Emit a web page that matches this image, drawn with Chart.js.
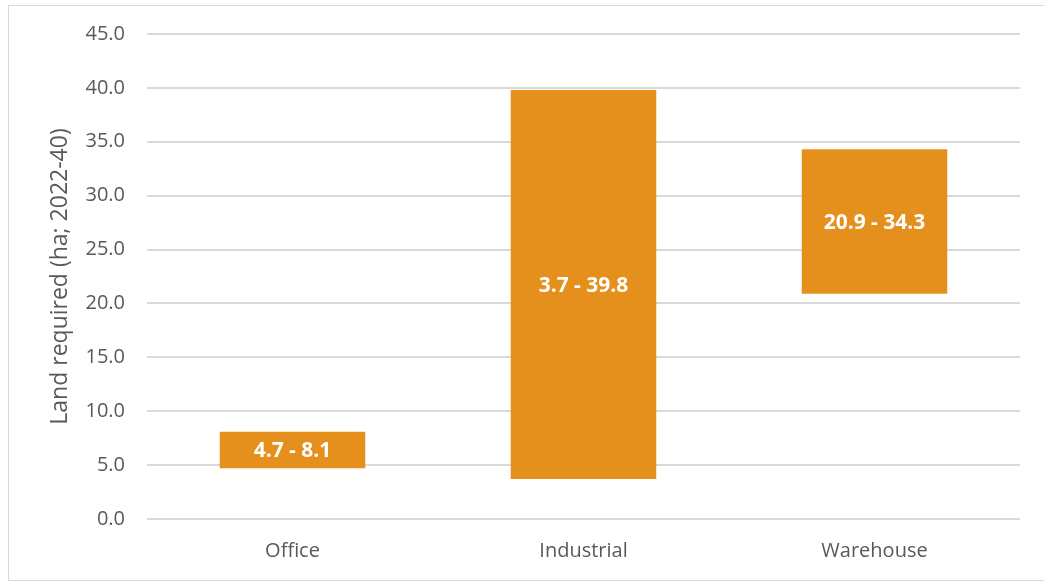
<!DOCTYPE html>
<html>
<head>
<meta charset="utf-8">
<script src="https://cdn.jsdelivr.net/npm/chart.js@4.4.0/dist/chart.umd.min.js"></script>
<style>
  html, body { margin: 0; padding: 0; background: #fff; }
  .frame {
    position: absolute; left: 8px; top: 5px;
    width: 1040px; height: 574px;
    border-left: 1px solid #d9d9d9;
    border-top: 1px solid #d9d9d9;
    border-bottom: 1px solid #d9d9d9;
  }
  #wrap { position: absolute; left: 0; top: 0; width: 1044px; height: 581px; }
</style>
</head>
<body>
<div class="frame"></div>
<div id="wrap"><canvas id="land-chart" width="1044" height="581"></canvas></div>
<script>
var categories = ['Office', 'Industrial', 'Warehouse'];
var lowValues = [4.7, 3.7, 20.9];
var highValues = [8.1, 39.8, 34.3];
var yTicks = [0, 5, 10, 15, 20, 25, 30, 35, 40, 45];

var ranges = categories.map(function (c, i) {
  return [lowValues[i], highValues[i]];
});

// writes "low - high" in the middle of each bar
var rangeLabels = {
  id: 'rangeLabels',
  afterDatasetsDraw: function (chart) {
    var ctx = chart.ctx;
    var meta = chart.getDatasetMeta(0);
    ctx.save();
    ctx.fillStyle = '#ffffff';
    ctx.font = 'bold 21px "Open Sans", sans-serif';
    ctx.textAlign = 'center';
    ctx.textBaseline = 'middle';
    meta.data.forEach(function (bar, i) {
      var txt = lowValues[i].toFixed(1) + ' - ' + highValues[i].toFixed(1);
      ctx.fillText(txt, bar.x, (bar.y + bar.base) / 2 + 1);
    });
    ctx.restore();
  }
};

new Chart(document.getElementById('land-chart'), {
  type: 'bar',
  data: {
    labels: categories,
    datasets: [{
      data: ranges,
      backgroundColor: '#e58f1c',
      borderSkipped: false,
      barPercentage: 0.5,
      categoryPercentage: 1.0
    }]
  },
  options: {
    responsive: false,
    animation: false,
    layout: { padding: { left: 47, right: 24, top: 27, bottom: 12 } },
    plugins: {
      legend: { display: false },
      tooltip: { enabled: false }
    },
    scales: {
      x: {
        grid: { display: false },
        border: { display: false },
        ticks: {
          color: '#595959',
          font: { family: '"Open Sans", sans-serif', size: 20 },
          padding: 12,
          maxRotation: 0
        },
        afterFit: function (scale) { scale.height = 50; }
      },
      y: {
        min: 0,
        max: 45,
        afterBuildTicks: function (scale) {
          scale.ticks = yTicks.map(function (v) { return { value: v }; });
        },
        grid: { color: '#d9d9d9', lineWidth: 2, drawTicks: false },
        border: { display: false },
        ticks: {
          color: '#595959',
          font: { family: '"Open Sans", sans-serif', size: 20 },
          padding: 22,
          callback: function (v) { return Number(v).toFixed(1); }
        },
        title: {
          display: true,
          text: 'Land required (ha; 2022-40)',
          color: '#595959',
          font: { family: '"Open Sans", sans-serif', size: 23 },
          padding: { top: 0, bottom: 8 }
        },
        afterFit: function (scale) { scale.width = 100; }
      }
    }
  },
  plugins: [rangeLabels]
});
</script>
</body>
</html>
